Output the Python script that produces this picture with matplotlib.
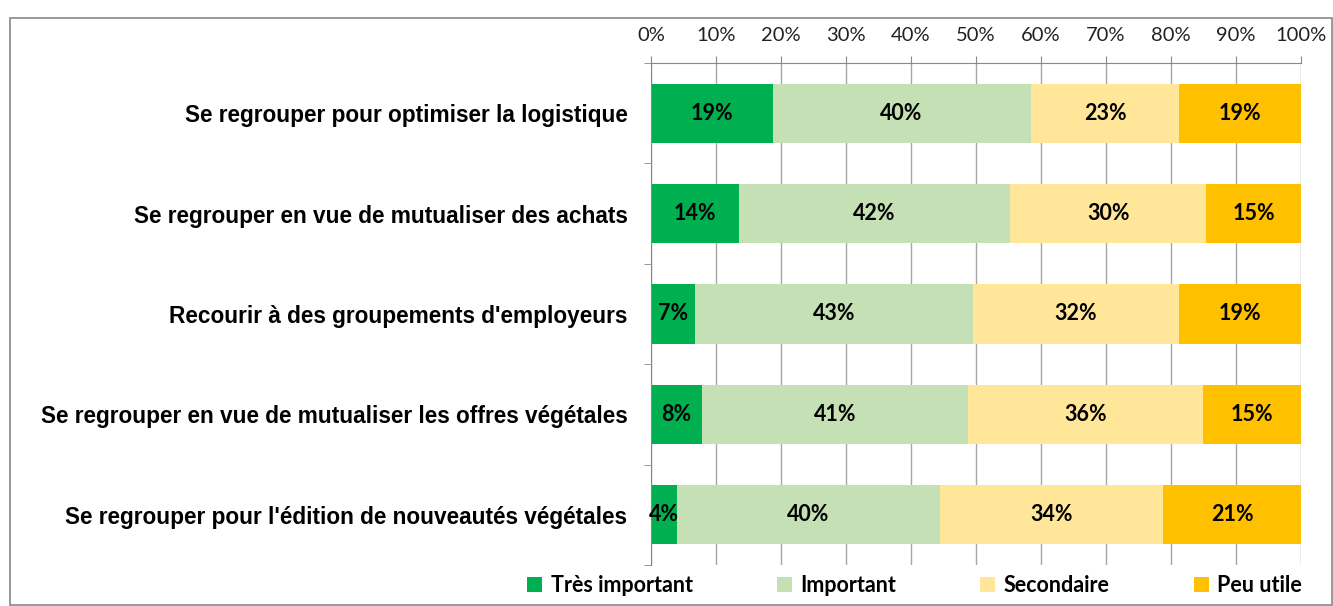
import numpy as np
import matplotlib.pyplot as plt
from matplotlib.patches import Rectangle

categories = [
    "Se regrouper pour optimiser la logistique",
    "Se regrouper en vue de mutualiser des achats",
    "Recourir à des groupements d'employeurs",
    "Se regrouper en vue de mutualiser les offres végétales",
    "Se regrouper pour l'édition de nouveautés végétales",
]
series = ["Très important", "Important", "Secondaire", "Peu utile"]
tres_important = [18.7, 13.5, 6.8, 7.8, 4.0]
important = [39.7, 41.8, 42.7, 41.0, 40.4]
secondaire = [22.9, 30.1, 31.8, 36.1, 34.4]
peu_utile = [18.7, 14.6, 18.7, 15.1, 21.2]

colors = ["#00B050", "#C5E0B4", "#FFE699", "#FFC000"]
values = [tres_important, important, secondaire, peu_utile]

fig = plt.figure(figsize=(13.33, 6.06), dpi=100)
ax = fig.add_axes([0.4884, 0.0677, 0.4876, 0.8283])

y = np.arange(len(categories))
left = np.zeros(len(categories))
for name, vals, col in zip(series, values, colors):
    vals = np.array(vals)
    bars = ax.barh(y, vals, left=left, height=0.59, color=col, label=name, zorder=2)
    ax.bar_label(bars, labels=[f"{round(v):d}%" for v in vals], label_type="center",
                 fontsize=15.5, fontweight="bold", family=["Lato", "DejaVu Sans"], color="black")
    left += vals

ax.set_xlim(0, 100)
ax.set_ylim(len(categories) - 0.5, -0.5)
ax.set_yticks(y)
ax.set_yticklabels(categories, fontsize=16.3, fontweight="bold",
                   family=["Liberation Sans Narrow", "Liberation Sans", "DejaVu Sans"])
ax.set_yticks(np.arange(-0.5, len(categories)), minor=True)
ax.tick_params(axis="y", which="major", length=0, pad=17)
ax.tick_params(axis="y", which="minor", length=5, color="#888888", direction="out")

ax.xaxis.tick_top()
ax.set_xticks(np.arange(0, 101, 10))
ax.set_xticklabels([f"{t}%" for t in range(0, 101, 10)], fontsize=14.5,
                   family=["Lato", "DejaVu Sans"], color="#222222")
ax.tick_params(axis="x", length=5, color="#888888", pad=9)
ax.grid(axis="x", color="#A6A6A6", linewidth=1, zorder=0)

for s in ["right", "bottom"]:
    ax.spines[s].set_visible(False)
for s in ["top", "left"]:
    ax.spines[s].set_color("#888888")

fig.legend(loc="center", bbox_to_anchor=(0.686, 0.034), ncol=4, frameon=False,
           handlelength=0.7, handleheight=0.7, handletextpad=0.4, columnspacing=3.9,
           prop={"family": ["Lato", "DejaVu Sans"], "weight": "bold", "size": 15.5})

# outer frame around the chart
fig.patches.append(Rectangle((10 / 1333, 0.002), 1322 / 1333, 1 - 18 / 606 - 0.002,
                             transform=fig.transFigure, fill=False,
                             edgecolor="#888888", linewidth=1.2))

fig.savefig("out.png", dpi=100)
